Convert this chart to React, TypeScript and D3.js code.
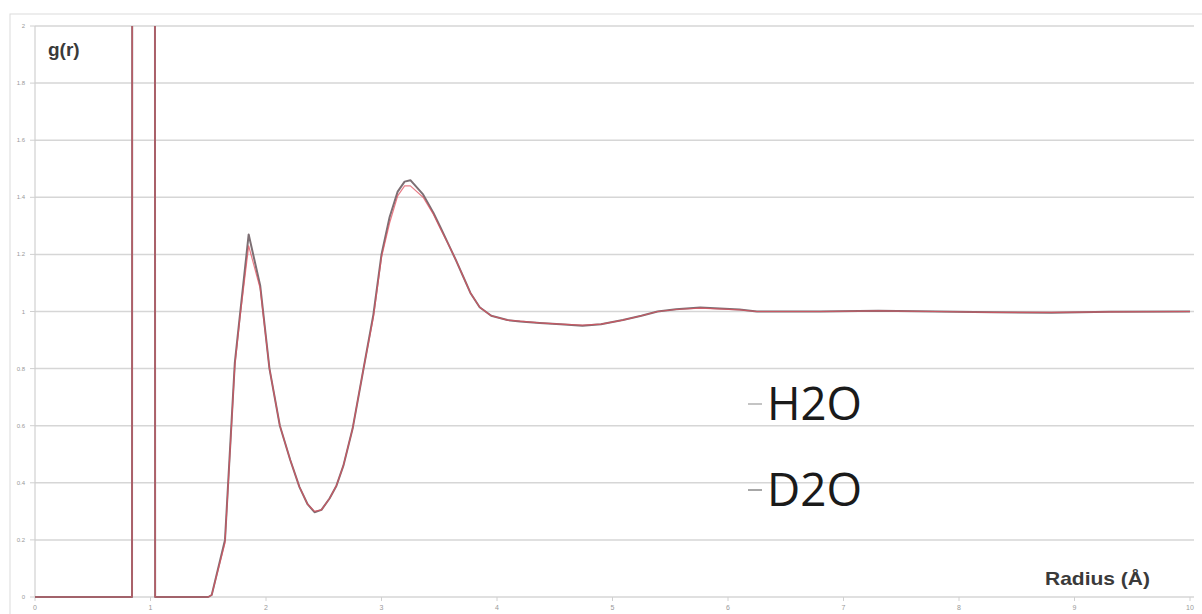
import React from "react";
import * as d3 from "d3";

// radius (Å) sample points
const radius = [
  0, 0.84, 0.86, 1.02, 1.04, 1.5, 1.53, 1.645, 1.73, 1.775, 1.85, 1.95, 2.03,
  2.12, 2.21, 2.29, 2.36, 2.42, 2.48, 2.55, 2.61, 2.67, 2.75, 2.84, 2.93, 3.0, 3.07,
  3.14, 3.2, 3.25, 3.36, 3.45, 3.51, 3.58, 3.65, 3.71, 3.77, 3.85, 3.95, 4.09,
  4.2, 4.37, 4.55, 4.74, 4.9, 5.09, 5.25, 5.39, 5.55, 5.76, 6.1, 6.25, 6.8, 7.3,
  7.8, 8.3, 8.8, 9.3, 10,
];

const h2o = [
  0, 0, 30, 30, 0, 0, 0.007, 0.2, 0.82, 0.99, 1.27, 1.09, 0.8,
  0.6, 0.48, 0.385, 0.325, 0.297, 0.305, 0.345, 0.39, 0.46, 0.59, 0.79, 0.99, 1.2, 1.33,
  1.42, 1.455, 1.46, 1.41, 1.345, 1.295, 1.235, 1.175, 1.12, 1.065, 1.015, 0.985, 0.97,
  0.965, 0.96, 0.955, 0.95, 0.955, 0.97, 0.985, 1.0, 1.008, 1.014, 1.007, 1.0,
  1.0, 1.003, 1.0, 0.997, 0.996, 0.999, 1.0,
];

const d2o = [
  0, 0, 30, 30, 0, 0, 0.007, 0.19, 0.81, 0.98, 1.23, 1.08, 0.8,
  0.6, 0.48, 0.385, 0.325, 0.3, 0.305, 0.345, 0.39, 0.46, 0.59, 0.79, 0.98, 1.19, 1.31,
  1.405, 1.44, 1.44, 1.4, 1.34, 1.29, 1.235, 1.175, 1.12, 1.065, 1.015, 0.985, 0.97,
  0.966, 0.96, 0.956, 0.952, 0.956, 0.97, 0.985, 1.0, 1.007, 1.012, 1.006, 1.0,
  1.0, 1.002, 1.0, 0.997, 0.997, 0.999, 1.0,
];

const xTicks = [0, 1, 2, 3, 4, 5, 6, 7, 8, 9, 10];
const yTicks = [0, 0.2, 0.4, 0.6, 0.8, 1, 1.2, 1.4, 1.6, 1.8, 2];
const legendNames = ["H2O", "D2O"];
const legendDash = ["#b0b0b0", "#8a8a8a"];

const W = 1202;
const H = 614;
const left = 35;
const right = 1190;
const top = 26;
const bottom = 597;

export default function App() {
  const x = d3.scaleLinear().domain([0, 10]).range([left, right]);
  const y = d3.scaleLinear().domain([0, 2]).range([bottom, top]);

  const line = (vals: number[]) =>
    d3
      .line<number>()
      .x((_, i) => x(radius[i]))
      .y((d) => y(d))(vals) as string;

  return (
    <svg
      width={W}
      height={H}
      style={{ position: "absolute", left: 0, top: 0, background: "#fff" }}
      fontFamily="'Liberation Sans', Arial, sans-serif"
    >
      <defs>
        <clipPath id="plot">
          <rect x={left - 2} y={top} width={right - left + 12} height={bottom - top + 2} />
        </clipPath>
      </defs>
      {/* chart area frame */}
      <rect x={10} y={14} width={W - 8} height={H} fill="none" stroke="#dcdcdc" />

      {/* gridlines */}
      {yTicks.map((t) => (
        <line key={t} x1={left} x2={right + 4} y1={y(t)} y2={y(t)} stroke="#d6d6d6" strokeWidth={1.5} />
      ))}
      <line x1={left} x2={left} y1={top} y2={bottom} stroke="#d0d0d0" strokeWidth={1.2} />

      {yTicks.map((t) => (
        <g key={"yl" + t}>
          <line x1={left - 5} x2={left} y1={y(t)} y2={y(t)} stroke="#d0d0d0" />
          <text x={25} y={y(t) + 2} fontSize={6} fill="#999" textAnchor="end">
            {t}
          </text>
        </g>
      ))}
      {xTicks.map((t) => (
        <g key={"xl" + t}>
          <line x1={x(t)} x2={x(t)} y1={bottom} y2={bottom + 4} stroke="#d0d0d0" />
          <text x={x(t)} y={bottom + 13} fontSize={7} fill="#999" textAnchor="middle">
            {t}
          </text>
        </g>
      ))}

      <g clipPath="url(#plot)" fill="none" strokeLinejoin="round">
        <path d={line(h2o)} stroke="#7d6f74" strokeWidth={2} />
        <path d={line(d2o)} stroke="#e0505e" strokeWidth={1.2} opacity={0.75} />
      </g>

      <text x={48} y={56} fontSize={19} fontWeight="bold" fill="#3a3a3a">
        g(r)
      </text>
      <text
        x={1045}
        y={585}
        fontSize={19}
        fontWeight="bold"
        fill="#3a3a3a"
        textLength={105}
        lengthAdjust="spacingAndGlyphs"
      >
        Radius (Å)
      </text>

      {legendNames.map((n, i) => (
        <g key={n}>
          <line x1={748} x2={762} y1={404 + i * 86} y2={404 + i * 86} stroke={legendDash[i]} strokeWidth={1.5} />
          <text
            x={767}
            y={420 + i * 86}
            fontSize={45}
            fill="#1a1a1a"
            fontFamily="'Open Sans', sans-serif"
            textLength={95}
            lengthAdjust="spacingAndGlyphs"
          >
            {n}
          </text>
        </g>
      ))}
    </svg>
  );
}
